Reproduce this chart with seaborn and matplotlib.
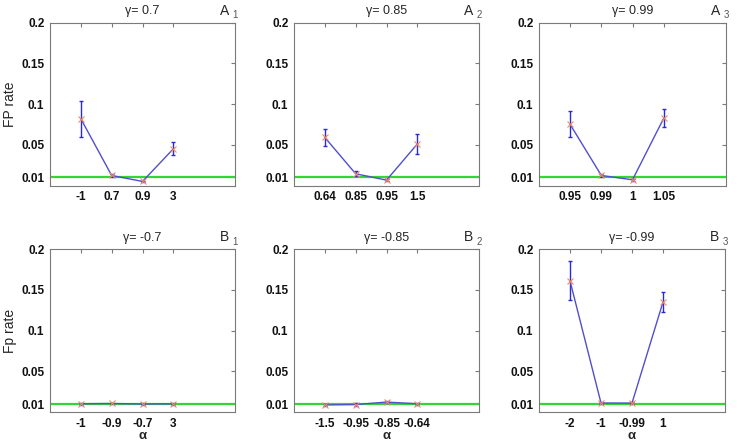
import numpy as np
import matplotlib
matplotlib.use("Agg")
import matplotlib.pyplot as plt
import seaborn as sns

sns.set_style("white")
plt.rcParams['font.family'] = ['Liberation Sans', 'DejaVu Sans']

# ---- data ----
titles = ["γ= 0.7", "γ= 0.85", "γ= 0.99", "γ= -0.7", "γ= -0.85", "γ= -0.99"]
panel_labels = ["A", "A", "A", "B", "B", "B"]
panel_subs = ["1", "2", "3", "1", "2", "3"]

alpha_A1 = ["-1", "0.7", "0.9", "3"]
fp_A1 = [0.082, 0.0123, 0.005, 0.045]
err_A1 = [0.022, 0.002, 0.001, 0.008]

alpha_A2 = ["0.64", "0.85", "0.95", "1.5"]
fp_A2 = [0.059, 0.0144, 0.0066, 0.051]
err_A2 = [0.010, 0.003, 0.001, 0.012]

alpha_A3 = ["0.95", "0.99", "1", "1.05"]
fp_A3 = [0.075, 0.0123, 0.007, 0.0825]
err_A3 = [0.016, 0.002, 0.001, 0.011]

alpha_B1 = ["-1", "-0.9", "-0.7", "3"]
fp_B1 = [0.0105, 0.0108, 0.0102, 0.0104]
err_B1 = [0.0012, 0.0012, 0.0010, 0.0012]

alpha_B2 = ["-1.5", "-0.95", "-0.85", "-0.64"]
fp_B2 = [0.009, 0.0095, 0.0125, 0.0105]
err_B2 = [0.0015, 0.0015, 0.0015, 0.0012]

alpha_B3 = ["-2", "-1", "-0.99", "1"]
fp_B3 = [0.161, 0.0114, 0.0113, 0.135]
err_B3 = [0.024, 0.001, 0.001, 0.012]

yticks = [0.01, 0.05, 0.1, 0.15, 0.2]
ytick_labels = ["0.01", "0.05", "0.1", "0.15", "0.2"]
ref_level = 0.01

panels = [
    (alpha_A1, fp_A1, err_A1),
    (alpha_A2, fp_A2, err_A2),
    (alpha_A3, fp_A3, err_A3),
    (alpha_B1, fp_B1, err_B1),
    (alpha_B2, fp_B2, err_B2),
    (alpha_B3, fp_B3, err_B3),
]

W, H = 737, 447
fig = plt.figure(figsize=(W / 100, H / 100), dpi=100)

# axes rectangles in pixels: (left, top, right, bottom)
rects = [
    (50, 22.7, 235, 185.5), (294, 22.7, 479, 185.5), (539, 22.7, 726, 185.5),
    (50, 249, 235, 412.3), (294, 249, 479, 412.3), (539, 249, 725, 412.3),
]

line_col = "#5050cc"
err_col = "#2a2ad8"
mk_col = "#ee8a66"
green = "#33d633"
frame_col = "#7a7a7a"

for i, ((labels, vals, errs), (l, t, r, b)) in enumerate(zip(panels, rects)):
    ax = fig.add_axes([l / W, 1 - b / H, (r - l) / W, (b - t) / H])
    pos = np.arange(1, len(labels) + 1)
    ax.axhline(ref_level, color=green, lw=1.6, zorder=1)
    ax.errorbar(pos, vals, yerr=errs, fmt="none", ecolor=err_col,
                elinewidth=1.0, capsize=1.2, capthick=1.0, zorder=2)
    sns.lineplot(x=pos, y=vals, ax=ax, color=line_col, lw=1.0, zorder=3,
                 marker="x", markersize=4, markeredgecolor=mk_col,
                 markeredgewidth=0.8)
    ax.set_xlim(0, 6)
    ax.set_ylim(0, 0.2)
    ax.set_xticks(pos)
    ax.set_xticklabels(labels, fontweight="bold")
    ax.set_yticks(yticks)
    ax.set_yticklabels(ytick_labels, fontweight="bold")
    ax.tick_params(direction="in", length=3, width=0.8, top=True, right=True,
                   labelsize=8.5, colors=frame_col, labelcolor="#111111", pad=4)
    for s in ax.spines.values():
        s.set_color(frame_col)
        s.set_linewidth(0.8)
    ax.set_title(titles[i], fontsize=9, pad=6)
    ax.text(0.97, 1.03, panel_labels[i], transform=ax.transAxes,
            ha="right", va="bottom", fontsize=10)
    ax.text(0.985, 1.015, panel_subs[i], transform=ax.transAxes,
            ha="left", va="bottom", fontsize=7, color="#555555")
    if i == 0:
        ax.set_ylabel("FP rate", fontsize=10, labelpad=3)
    elif i == 3:
        ax.set_ylabel("Fp rate", fontsize=10, labelpad=3)
    if i >= 3:
        ax.set_xlabel("α", fontsize=9.5, fontweight="bold", labelpad=0)

fig.savefig("out.png", dpi=100)
